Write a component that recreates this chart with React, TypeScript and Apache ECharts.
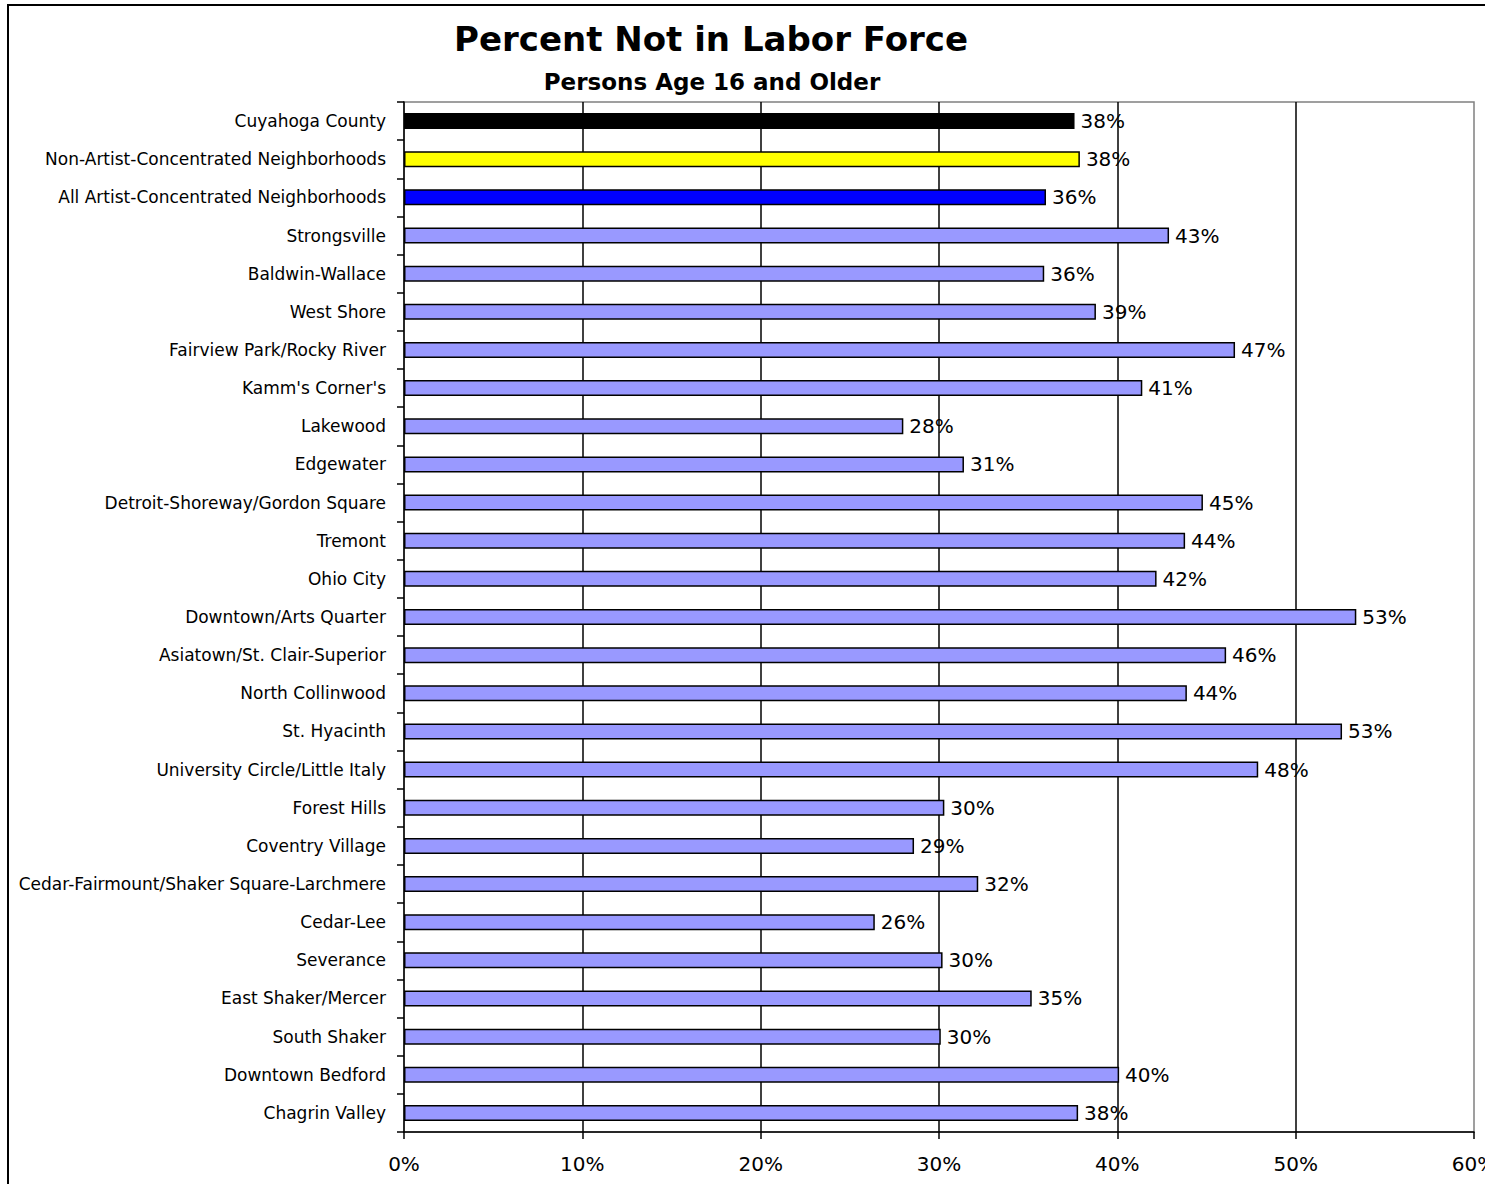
import React, { useEffect, useRef } from "react";
import * as echarts from "echarts";

const categories = [
  "Cuyahoga County",
  "Non-Artist-Concentrated Neighborhoods",
  "All Artist-Concentrated Neighborhoods",
  "Strongsville",
  "Baldwin-Wallace",
  "West Shore",
  "Fairview Park/Rocky River",
  "Kamm's Corner's",
  "Lakewood",
  "Edgewater",
  "Detroit-Shoreway/Gordon Square",
  "Tremont",
  "Ohio City",
  "Downtown/Arts Quarter",
  "Asiatown/St. Clair-Superior",
  "North Collinwood",
  "St. Hyacinth",
  "University Circle/Little Italy",
  "Forest Hills",
  "Coventry Village",
  "Cedar-Fairmount/Shaker Square-Larchmere",
  "Cedar-Lee",
  "Severance",
  "East Shaker/Mercer",
  "South Shaker",
  "Downtown Bedford",
  "Chagrin Valley",
];

const values = [
  37.6, 37.9, 36.0, 42.9, 35.9, 38.8, 46.6, 41.4, 28.0, 31.4, 44.8, 43.8, 42.2,
  53.4, 46.1, 43.9, 52.6, 47.9, 30.3, 28.6, 32.2, 26.4, 30.2, 35.2, 30.1, 40.1,
  37.8,
];

const xTicks = [0, 10, 20, 30, 40, 50, 60];

const titleText = "Percent Not in Labor Force";
const subtitleText = "Persons Age 16 and Older";

const FONT = "'DejaVu Sans', 'Liberation Sans', Arial, sans-serif";

export default function App() {
  const ref = useRef<HTMLDivElement>(null);

  useEffect(() => {
    if (!ref.current) return;
    document.body.style.margin = "0";
    document.body.style.overflow = "hidden";
    const chart = echarts.init(ref.current, undefined, { renderer: "svg" });

    const special: Record<number, string> = { 0: "#000000", 1: "#FFFF00", 2: "#0000FF" };
    const data = values.map((v, i) => ({
      value: v,
      itemStyle: { color: special[i] ?? "#9999FF" },
    }));

    chart.setOption({
      animation: false,
      backgroundColor: "#ffffff",
      title: [
        {
          text: titleText,
          left: 711,
          top: 22,
          padding: 0,
          textAlign: "center",
          textStyle: { fontFamily: FONT, fontWeight: "bold", fontSize: 34, color: "#000" },
        },
        {
          text: subtitleText,
          left: 712,
          top: 70,
          padding: 0,
          textAlign: "center",
          textStyle: { fontFamily: FONT, fontWeight: "bold", fontSize: 23, color: "#000" },
        },
      ],
      graphic: [
        {
          type: "rect",
          shape: { x: 8, y: 5, width: 1500, height: 1200 },
          style: { fill: "transparent", stroke: "#000", lineWidth: 2 },
          silent: true,
          z: -1,
        },
      ],
      grid: {
        left: 404,
        top: 102,
        right: 11,
        bottom: 52,
        containLabel: false,
        outerBoundsMode: "none",
        show: true,
        borderColor: "#808080",
        borderWidth: 1.5,
        backgroundColor: "transparent",
      },
      xAxis: {
        type: "value",
        min: xTicks[0],
        max: xTicks[xTicks.length - 1],
        interval: 10,
        axisLine: { show: true, lineStyle: { color: "#000", width: 1.5 } },
        axisTick: { show: true, length: 7, lineStyle: { color: "#000", width: 1.5 } },
        axisLabel: {
          formatter: (v: number) => `${v}%`,
          fontFamily: FONT,
          fontSize: 20,
          color: "#000",
          margin: 22,
          hideOverlap: false,
        },
        splitLine: {
          show: true,
          showMinLine: false,
          showMaxLine: false,
          lineStyle: { color: "#000", width: 1.5 },
        },
      },
      yAxis: {
        type: "category",
        data: categories,
        inverse: true,
        axisLine: { show: true, lineStyle: { color: "#000", width: 1.5 } },
        axisTick: { show: true, length: 7, lineStyle: { color: "#000", width: 1.5 } },
        axisLabel: {
          fontFamily: FONT,
          fontSize: 17,
          color: "#000",
          margin: 18,
          interval: 0,
        },
        splitLine: { show: false },
      },
      series: [
        {
          type: "bar",
          data,
          barWidth: 16,
          itemStyle: { borderColor: "#000", borderWidth: 1.5 },
          label: {
            show: true,
            position: "right",
            distance: 6,
            formatter: (p: any) => `${Math.round(p.value)}%`,
            fontFamily: FONT,
            fontSize: 20,
            color: "#000",
          },
        },
      ],
    });

    return () => chart.dispose();
  }, []);

  return (
    <div
      ref={ref}
      style={{ position: "fixed", left: 0, top: 0, width: 1485, height: 1184 }}
    />
  );
}
